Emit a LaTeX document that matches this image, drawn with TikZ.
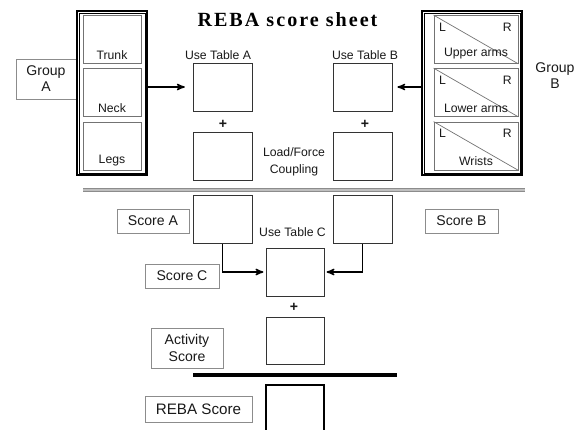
\documentclass[tikz,border=0pt]{standalone}
\usepackage{fontspec}
\setmainfont{Liberation Sans}
\newfontfamily\titlefont[LetterSpace=10]{Liberation Serif}
\usepackage{tikz}
\usetikzlibrary{arrows}
\usetikzlibrary{positioning}
\usepackage{xcolor}

\begin{document}
\begin{tikzpicture}[x=0.025cm, y=-0.025cm, >=stealth']
\tikzstyle{cell} = [draw=black!80, line width=0.7pt, minimum width=1.475cm, minimum height=1.2cm, inner sep=0pt]
\tikzstyle{part} = [draw=black!55, line width=0.5pt, minimum height=1.2cm, inner sep=0pt]
\tikzstyle{frame} = [draw=black, line width=1.6pt, minimum height=4.1cm, inner sep=0pt]
\tikzstyle{tag} = [draw=black!45, line width=0.5pt, minimum height=0.6cm, inner sep=0pt, align=center, text=black!90, font=\fontsize{10}{12}\selectfont]
\tikzstyle{note} = [text=black!90, inner sep=1pt, align=center, font=\fontsize{8.7}{12}\selectfont]
\tikzstyle{link} = [->, line width=1pt]

\useasboundingbox (0,0) rectangle (579,429);

\node[font=\titlefont\bfseries\fontsize{14.3}{16}\selectfont] (T) at (287.5,20) {REBA score sheet};

% group A
\node[tag, minimum width=1.5cm, minimum height=1cm, font=\fontsize{10}{11.5}\selectfont] (GA) at (46,79) {Group\\A};
\node[frame, minimum width=1.75cm] (GAF) at (112,93) {};
\draw[line width=0.4pt] ([shift={(2.2pt,-2.2pt)}]GAF.north west) rectangle ([shift={(-2.2pt,2.2pt)}]GAF.south east);
\node[part, minimum width=1.45cm] (TR) at (112,39.5) {};
\node[part, minimum width=1.45cm] (NE) at (112,92.5) {};
\node[part, minimum width=1.45cm] (LE) at (112,146) {};
\node[note, above=2pt of TR.south] (TRl) {Trunk};
\node[note, above=2pt of NE.south] (NEl) {Neck};
\node[note, above=2pt of LE.south] (LEl) {Legs};

% group B
\node[frame, minimum width=2.5cm] (GBF) at (472,93) {};
\draw[line width=0.4pt] ([shift={(2.2pt,-2.2pt)}]GBF.north west) rectangle ([shift={(-2.2pt,2.2pt)}]GBF.south east);
\node[part, minimum width=2.1cm] (UA) at (476,39.5) {};
\node[part, minimum width=2.1cm] (LA) at (476,92.5) {};
\node[part, minimum width=2.1cm] (WR) at (476,146) {};
\draw[black!55, line width=0.5pt] (UA.north west) -- (UA.south east);
\draw[black!55, line width=0.5pt] (LA.north west) -- (LA.south east);
\draw[black!55, line width=0.5pt] (WR.north west) -- (WR.south east);
\node[note] (UAL) at ([shift={(6.4pt,-8.5pt)}]UA.north west) {L};
\node[note] (UAR) at ([shift={(-7.8pt,-8.5pt)}]UA.north east) {R};
\node[note] (LAL) at ([shift={(6.4pt,-8.5pt)}]LA.north west) {L};
\node[note] (LAR) at ([shift={(-7.8pt,-8.5pt)}]LA.north east) {R};
\node[note] (WRL) at ([shift={(6.4pt,-8.5pt)}]WR.north west) {L};
\node[note] (WRR) at ([shift={(-7.8pt,-8.5pt)}]WR.north east) {R};
\node[note, above=2pt of UA.south] (UAl) {Upper arms};
\node[note, above=2pt of LA.south] (LAl) {Lower arms};
\node[note, above=2pt of WR.south] (WRl) {Wrists};
\node[align=center, text=black!90, font=\fontsize{10}{11.5}\selectfont] (GB) at (555,76) {Group\\B};

% tables A and B
\node[cell] (TA) at (222.5,87) {};
\node[cell] (FA) at (222.5,156) {};
\node[cell] (TB) at (362.5,87) {};
\node[cell] (FB) at (362.5,156) {};
\node[note] (TAl) at (218,55) {Use Table A};
\node[note] (TBl) at (365,55) {Use Table B};
\node[note, font=\bfseries\fontsize{10}{12}\selectfont] (PA) at (223,124) {+};
\node[note, font=\bfseries\fontsize{10}{12}\selectfont] (PB) at (365,124) {+};
\node[note] (LF) at (294,161.5) {Load/Force\\Coupling};

\draw[link, shorten >=5.5pt] (GAF.east |- TA.west) -- (TA.west);
\draw[link, shorten >=3.5pt] (GBF.west |- TB.east) -- (TB.east);

\coordinate (S1) at (83,190);
\coordinate (S2) at (525,190);
\draw[black!45, double=black!25, line width=0.8pt, double distance=0.8pt] (S1) -- (S2);

% scores
\node[cell] (SA) at (222.5,219) {};
\node[cell] (SB) at (362.5,219) {};
\node[cell, minimum width=1.45cm] (TC) at (295,272) {};
\node[cell, minimum width=1.45cm, minimum height=1.175cm] (AC) at (295,340.5) {};
\node[cell, minimum width=1.45cm, minimum height=2cm, draw=black, line width=1.6pt] (RS) at (295,425) {};
\node[note] (TCl) at (292.5,232) {Use Table C};
\node[note, font=\bfseries\fontsize{10}{12}\selectfont] (PC) at (294,307) {+};

\node[tag, minimum width=1.8cm] (SAl) at (153,221) {Score A};
\node[tag, minimum width=1.825cm] (SBl) at (461.5,221) {Score B};
\node[tag, minimum width=1.85cm] (SCl) at (182,276) {Score C};
\node[tag, minimum width=1.8cm, minimum height=1cm] (ASl) at (187,348) {Activity\\Score};
\node[tag, minimum width=2.675cm, minimum height=0.65cm, font=\fontsize{10.8}{13}\selectfont] (RSl) at (198.5,409) {REBA Score};

\draw[link, shorten >=1.5pt] (SA.south) |- (TC.west);
\draw[link, shorten >=1.5pt] (SB.south) |- (TC.east);

\coordinate (R1) at (193,375);
\coordinate (R2) at (397,375);
\draw[line width=2.2pt] (R1) -- (R2);

\end{tikzpicture}
\end{document}
